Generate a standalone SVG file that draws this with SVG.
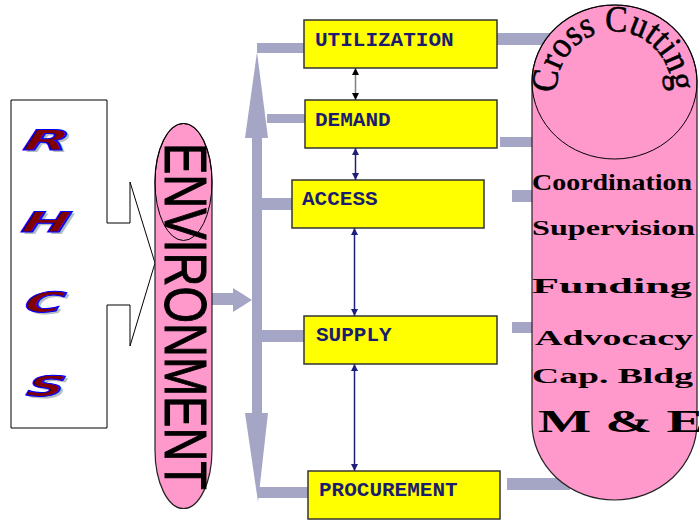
<svg xmlns="http://www.w3.org/2000/svg" width="699" height="520" viewBox="0 0 699 520">
<style>
.bar{fill:#A5A5C6}
.box{fill:#FFFF00;stroke:#333333;stroke-width:1.5}
.btxt{font-family:"Liberation Mono",monospace;font-weight:bold;font-size:21px;fill:#1C1C6E}
.pink{fill:#FF99CC;stroke:#222222;stroke-width:1.2}
.lbl{font-family:"Liberation Serif",serif;font-weight:bold;fill:#000000}
.rhcs{font-family:"DejaVu Sans",sans-serif;font-weight:bold;font-style:italic;font-size:28px}
.let{fill:#800000;stroke:#0000FF;stroke-width:1}
.shd{fill:#BBBBBB}
.nav{stroke:#1F1F7A;stroke-width:1.5;fill:none}
</style>
<defs>
<marker id="an" viewBox="0 0 10 10" refX="10" refY="5" markerWidth="8" markerHeight="7" markerUnits="userSpaceOnUse" orient="auto-start-reverse"><path d="M0,0 L10,5 L0,10 Z" fill="#1F1F7A"/></marker>
<marker id="ab" viewBox="0 0 10 10" refX="10" refY="5" markerWidth="8" markerHeight="7" markerUnits="userSpaceOnUse" orient="auto-start-reverse"><path d="M0,0 L10,5 L0,10 Z" fill="#000000"/></marker>
<path id="arcCC" d="M557.2,93.1 A57,57 0 1 1 670.8,93.1"/>
</defs>
<rect width="699" height="520" fill="#FFFFFF"/>

<g id="connectors">
  <rect class="bar" x="212" y="293" width="22" height="12"/>
  <polygon class="bar" points="233,288 252,300 233,312"/>
  <rect class="bar" x="252" y="137" width="10" height="277"/>
  <polygon class="bar" points="245,138 268,138 257,52"/>
  <polygon class="bar" points="245,413 268,413 258,502"/>
  <rect class="bar" x="257" y="43" width="48" height="10"/>
  <rect class="bar" x="267" y="114" width="38" height="9"/>
  <rect class="bar" x="262" y="198" width="30" height="12"/>
  <rect class="bar" x="262" y="330" width="42" height="12"/>
  <rect class="bar" x="258" y="487" width="50" height="11"/>
  <rect class="bar" x="497" y="33" width="63" height="12"/>
  <rect class="bar" x="500" y="137" width="40" height="10"/>
  <rect class="bar" x="512" y="190" width="28" height="12"/>
  <rect class="bar" x="512" y="322" width="28" height="11"/>
  <rect class="bar" x="507" y="478" width="63" height="12"/>
  <line x1="355.5" y1="68" x2="355.5" y2="100" stroke="#808080" stroke-width="1.5" marker-start="url(#ab)" marker-end="url(#ab)"/>
  <line class="nav" x1="355.5" y1="148" x2="355.5" y2="180" marker-start="url(#an)" marker-end="url(#an)"/>
  <line class="nav" x1="354.5" y1="228" x2="354.5" y2="316" marker-start="url(#an)" marker-end="url(#an)"/>
  <line class="nav" x1="354.5" y1="364" x2="354.5" y2="471" marker-start="url(#an)" marker-end="url(#an)"/>
</g>

<g id="rhcs">
  <path d="M11,100 L107,100 L107,223 L130,223 L130,182 L155,263 L130,346 L130,305 L107,305 L107,428 L11,428 Z" fill="#FFFFFF" stroke="#000000" stroke-width="1"/>
  <g class="rhcs">
    <text class="shd" transform="translate(25,152) skewX(-14)" textLength="45" lengthAdjust="spacingAndGlyphs">R</text>
    <text class="let" transform="translate(22,150) skewX(-14)" textLength="45" lengthAdjust="spacingAndGlyphs">R</text>
    <text class="shd" transform="translate(23,234) skewX(-14)" textLength="48" lengthAdjust="spacingAndGlyphs">H</text>
    <text class="let" transform="translate(20,232) skewX(-14)" textLength="48" lengthAdjust="spacingAndGlyphs">H</text>
    <text class="shd" transform="translate(26,314) skewX(-14)" textLength="39" lengthAdjust="spacingAndGlyphs">C</text>
    <text class="let" transform="translate(23,312) skewX(-14)" textLength="39" lengthAdjust="spacingAndGlyphs">C</text>
    <text class="shd" transform="translate(28,398) skewX(-14)" textLength="38" lengthAdjust="spacingAndGlyphs">S</text>
    <text class="let" transform="translate(25,396) skewX(-14)" textLength="38" lengthAdjust="spacingAndGlyphs">S</text>
  </g>
</g>

<g id="environment">
  <path class="pink" d="M155,182 A28.5,58.5 0 0 1 212,182 L212,450 A28.5,58.5 0 0 1 155,450 Z"/>
  <ellipse cx="183.5" cy="182" rx="28.5" ry="58.5" fill="none" stroke="#000000" stroke-width="1"/>
  <text transform="translate(165,143) rotate(90)" font-family="Liberation Sans, Arial, sans-serif" font-size="60" fill="#000000" stroke="#000000" stroke-width="1" textLength="347" lengthAdjust="spacingAndGlyphs">ENVIRONMENT</text>
</g>

<g id="utilization">
  <rect class="box" x="304" y="20" width="193" height="48"/>
  <text class="btxt" x="315" y="46">UTILIZATION</text>
</g>
<g id="demand">
  <rect class="box" x="305" y="100" width="192" height="48"/>
  <text class="btxt" x="315" y="126">DEMAND</text>
</g>
<g id="access">
  <rect class="box" x="292" y="180" width="192" height="48"/>
  <text class="btxt" x="302" y="205">ACCESS</text>
</g>
<g id="supply">
  <rect class="box" x="304" y="316" width="193" height="48"/>
  <text class="btxt" x="316" y="341">SUPPLY</text>
</g>
<g id="procurement">
  <rect class="box" x="308" y="471" width="192" height="48"/>
  <text class="btxt" x="319" y="496">PROCUREMENT</text>
</g>

<g id="crosscutting">
  <path class="pink" d="M532,82 A82.5,77 0 0 1 697,82 L697,423 A82.5,77 0 0 1 532,423 Z"/>
  <ellipse cx="614.5" cy="82" rx="82.5" ry="77" fill="none" stroke="#000000" stroke-width="1"/>
  <text font-family="Liberation Serif, serif" font-size="37" fill="#000000" stroke="#000000" stroke-width="0.6"><textPath href="#arcCC" textLength="186" lengthAdjust="spacingAndGlyphs">Cross Cutting</textPath></text>
  <text class="lbl" x="532" y="190" font-size="23" textLength="160" lengthAdjust="spacingAndGlyphs">Coordination</text>
  <text class="lbl" x="532" y="235" font-size="21" textLength="163" lengthAdjust="spacingAndGlyphs">Supervision</text>
  <text class="lbl" x="532" y="293" font-size="21" textLength="160" lengthAdjust="spacingAndGlyphs">Funding</text>
  <text class="lbl" x="535" y="345" font-size="21" textLength="158" lengthAdjust="spacingAndGlyphs">Advocacy</text>
  <text class="lbl" x="532" y="383" font-size="22" textLength="161" lengthAdjust="spacingAndGlyphs">Cap. Bldg</text>
  <text class="lbl" x="538" y="432" font-size="32" textLength="166" lengthAdjust="spacingAndGlyphs">M &amp; E</text>
</g>
</svg>
